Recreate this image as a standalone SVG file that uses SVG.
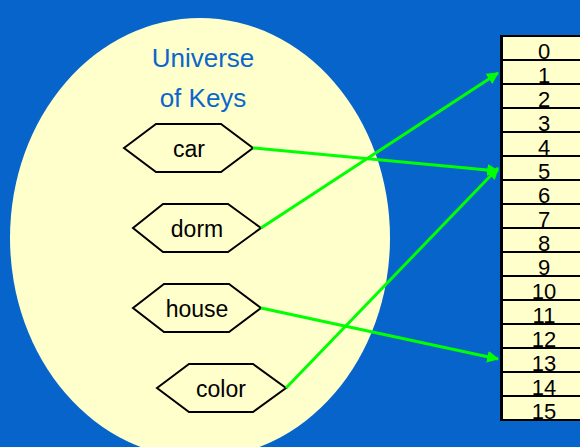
<svg xmlns="http://www.w3.org/2000/svg" width="580" height="447" viewBox="0 0 580 447">
  <style>
    .hex { fill: #FFFFCC; stroke: #000; stroke-width: 2; }
    .lbl { font-family: "Liberation Sans", Arial, sans-serif; font-size: 23px; fill: #000; text-anchor: middle; }
    .title { font-family: "Liberation Sans", Arial, sans-serif; font-size: 26px; fill: #0B66CC; text-anchor: middle; }
    .cell { fill: #FFFFCC; stroke: #000; stroke-width: 2; }
    .num { font-family: "Liberation Sans", Arial, sans-serif; font-size: 22px; fill: #000; text-anchor: middle; }
    .link { stroke: #00FF00; stroke-width: 3; fill: none; marker-end: url(#head); }
  </style>
  <defs>
    <marker id="head" viewBox="0 0 10 10" refX="9" refY="5" markerWidth="4" markerHeight="4" orient="auto" markerUnits="strokeWidth">
      <path d="M0,0 L10,5 L0,10 z" fill="#00FF00"/>
    </marker>
  </defs>

  <!-- background -->
  <rect width="580" height="447" fill="#0664CA"/>

  <!-- universe of keys -->
  <g id="universe">
    <ellipse cx="200" cy="238" rx="190" ry="220" fill="#FFFFCC"/>
    <text class="title" x="203" y="67">Universe</text>
    <text class="title" x="203" y="107">of Keys</text>
  </g>

  <g id="key-car">
    <polygon class="hex" points="124,148 156,124 221,124 253,148 221,172 156,172"/>
    <text class="lbl" x="189" y="157">car</text>
  </g>
  <g id="key-dorm">
    <polygon class="hex" points="133,228 163,204 228,204 261,228 228,252 163,252"/>
    <text class="lbl" x="197" y="237">dorm</text>
  </g>
  <g id="key-house">
    <polygon class="hex" points="133,308 164,284 229,284 261,308 229,332 164,332"/>
    <text class="lbl" x="197" y="317">house</text>
  </g>
  <g id="key-color">
    <polygon class="hex" points="157,388 189,364 253,364 286,388 253,412 189,412"/>
    <text class="lbl" x="221" y="397">color</text>
  </g>

  <!-- hash table slots -->
  <g id="table">
    <rect class="cell" x="502" y="36" width="90" height="24"/>
    <rect class="cell" x="502" y="60" width="90" height="24"/>
    <rect class="cell" x="502" y="84" width="90" height="24"/>
    <rect class="cell" x="502" y="108" width="90" height="24"/>
    <rect class="cell" x="502" y="132" width="90" height="24"/>
    <rect class="cell" x="502" y="156" width="90" height="24"/>
    <rect class="cell" x="502" y="180" width="90" height="24"/>
    <rect class="cell" x="502" y="204" width="90" height="24"/>
    <rect class="cell" x="502" y="228" width="90" height="24"/>
    <rect class="cell" x="502" y="252" width="90" height="24"/>
    <rect class="cell" x="502" y="276" width="90" height="24"/>
    <rect class="cell" x="502" y="300" width="90" height="24"/>
    <rect class="cell" x="502" y="324" width="90" height="24"/>
    <rect class="cell" x="502" y="348" width="90" height="24"/>
    <rect class="cell" x="502" y="372" width="90" height="24"/>
    <rect class="cell" x="502" y="396" width="90" height="24"/>
    <line x1="501.5" y1="35" x2="501.5" y2="421" stroke="#000" stroke-width="3"/>
    <text class="num" x="544" y="59">0</text>
    <text class="num" x="544" y="83">1</text>
    <text class="num" x="544" y="107">2</text>
    <text class="num" x="544" y="131">3</text>
    <text class="num" x="544" y="155">4</text>
    <text class="num" x="544" y="179">5</text>
    <text class="num" x="544" y="203">6</text>
    <text class="num" x="544" y="227">7</text>
    <text class="num" x="544" y="251">8</text>
    <text class="num" x="544" y="275">9</text>
    <text class="num" x="544" y="299">10</text>
    <text class="num" x="544" y="323">11</text>
    <text class="num" x="544" y="347">12</text>
    <text class="num" x="544" y="371">13</text>
    <text class="num" x="544" y="395">14</text>
    <text class="num" x="544" y="419">15</text>
  </g>

  <!-- hash mappings -->
  <g id="connectors">
    <line class="link" x1="253" y1="148" x2="498" y2="171"/>
    <line class="link" x1="261" y1="228" x2="498" y2="73"/>
    <line class="link" x1="261" y1="308" x2="498" y2="359"/>
    <line class="link" x1="286" y1="388" x2="498" y2="168"/>
  </g>
</svg>
